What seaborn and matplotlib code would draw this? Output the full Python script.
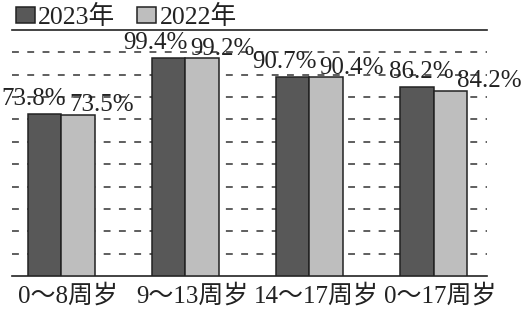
import numpy as np
import pandas as pd
import matplotlib
matplotlib.use("Agg")
import matplotlib.pyplot as plt
import seaborn as sns
from matplotlib.transforms import ScaledTranslation

# ---- data ----
categories = ["0～8周岁", "9～13周岁", "14～17周岁", "0～17周岁"]
years = ["2023年", "2022年"]
values_2023 = [73.8, 99.4, 90.7, 86.2]
values_2022 = [73.5, 99.2, 90.4, 84.2]

df = pd.DataFrame({
    "cat": categories * 2,
    "year": [years[0]] * 4 + [years[1]] * 4,
    "val": values_2023 + values_2022,
})

sns.set_style("white")
plt.rcParams["font.family"] = ["Liberation Serif", "Noto Sans CJK SC"]

fig = plt.figure(figsize=(5.24, 3.12), dpi=100)
ax = fig.add_axes([12 / 524, 1 - 276 / 312, 475 / 524, 246 / 312])

colors = ["#585858", "#bebebe"]
sns.barplot(data=df, x="cat", y="val", hue="year", hue_order=years,
            palette=colors, width=0.54, edgecolor="#222222", linewidth=1.1,
            saturation=1, ax=ax, legend=True, zorder=3)

ymax = 112
ax.set_ylim(0, ymax)
ax.set_xlim(-0.395, 3.43)

# dashed gridlines
for g in np.linspace(0, ymax, 12)[1:-1]:
    ax.axhline(g, color="#333333", lw=1.1, ls=(0, (4.5, 5.5)), zorder=1)

for s in ["left", "right"]:
    ax.spines[s].set_visible(False)
for s in ["top", "bottom"]:
    ax.spines[s].set_visible(True)
    ax.spines[s].set_color("#222222")
    ax.spines[s].set_linewidth(1.2)

ax.set_xlabel("")
ax.set_ylabel("")
ax.set_yticks([])
ax.tick_params(axis="x", length=0, pad=6, labelsize=18, colors="#222222")
for lab in ax.get_xticklabels():
    lab.set_transform(lab.get_transform() + ScaledTranslation(7 / 100, 0, fig.dpi_scale_trans))

# value labels
shift_px = [3, 0, 5, 18]
for ci, cont in enumerate(ax.containers):
    vals = values_2023 if ci == 0 else values_2022
    for i, p in enumerate(cont.patches):
        x0 = p.get_x()
        w = p.get_width()
        h = p.get_height()
        if ci == 0:
            ax.annotate(f"{vals[i]}%", xy=(x0 + w, h),
                        xytext=((shift_px[i] + 2) * 0.72, 3), textcoords="offset points",
                        ha="right", va="bottom", fontsize=18, color="#222222", zorder=5)
        else:
            ax.annotate(f"{vals[i]}%", xy=(x0, h),
                        xytext=((shift_px[i] + 5) * 0.72, -1), textcoords="offset points",
                        ha="left", va="bottom", fontsize=18, color="#222222", zorder=5)

# legend
handles, labels = ax.get_legend_handles_labels()
ax.get_legend().remove()
fig.legend(handles, labels, loc="center left", bbox_to_anchor=(16 / 524, 1 - 17 / 312),
           ncol=2, frameon=False, fontsize=18.5, handlelength=0.72, handleheight=0.55,
           handletextpad=0.15, columnspacing=0.85, borderpad=0, borderaxespad=0,
           labelcolor="#222222")

fig.savefig("out.png", dpi=100)
